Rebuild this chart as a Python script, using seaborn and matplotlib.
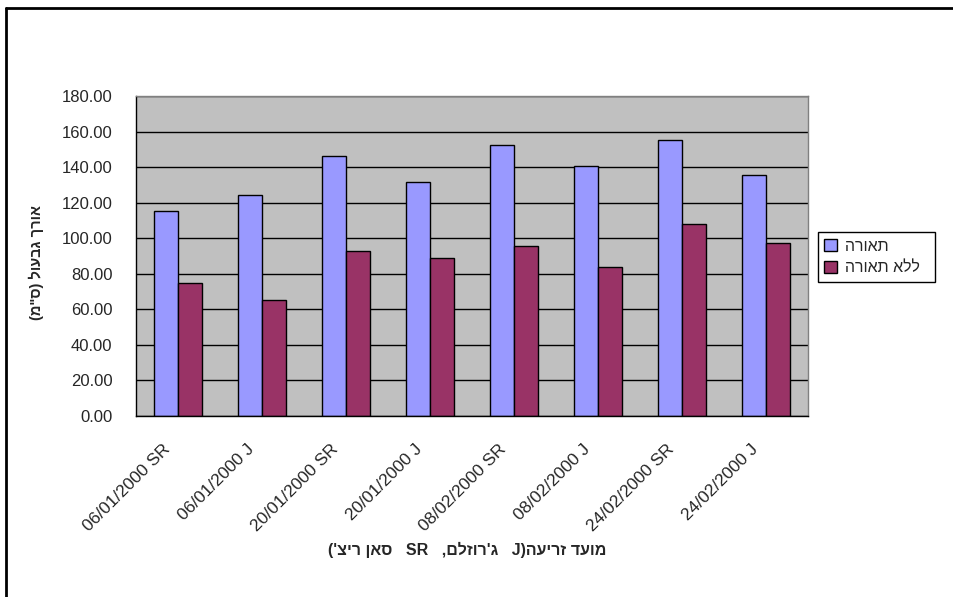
import pandas as pd
import seaborn as sns
import matplotlib.pyplot as plt
from matplotlib.lines import Line2D
from matplotlib.ticker import FixedLocator, FormatStrFormatter
from matplotlib.transforms import ScaledTranslation

# sowing date (J = Jerusalem, SR = San Rich) and stem length in cm
dates = ["06/01/2000 SR", "06/01/2000 J", "20/01/2000 SR", "20/01/2000 J",
         "08/02/2000 SR", "08/02/2000 J", "24/02/2000 SR", "24/02/2000 J"]
with_light = [115.5, 124.3, 146.1, 131.6, 152.2, 140.8, 155.4, 135.4]
no_light = [74.6, 65.2, 92.6, 89.0, 95.6, 84.0, 108.2, 97.5]
series_names = ["תאורה", "ללא תאורה"]
colors = ["#9999FF", "#993366"]
y_ticks = [0, 20, 40, 60, 80, 100, 120, 140, 160, 180]


def heb(s):
    # matplotlib has no bidi support, so flip simple Hebrew strings by hand
    return s[::-1].translate(str.maketrans("()", ")("))


labels = [heb(n) for n in series_names]
df = pd.DataFrame({
    "date": dates * 2,
    "value": with_light + no_light,
    "series": [labels[0]] * len(dates) + [labels[1]] * len(dates),
})

sns.set_style("white")
plt.rcParams["font.family"] = ["Liberation Sans", "DejaVu Sans"]

fig = plt.figure(figsize=(9.54, 5.97), dpi=100)
ax = fig.add_axes([0.1426, 0.3032, 0.7044, 0.536])

sns.barplot(data=df, x="date", y="value", hue="series", order=dates,
            hue_order=labels, palette=colors, width=0.57, gap=0,
            edgecolor="black", linewidth=1, saturation=1, ax=ax)

ax.set_facecolor("#C0C0C0")
ax.set_xlim(-0.5, len(dates) - 0.5)
ax.set_ylim(0, 180)
ax.yaxis.set_major_locator(FixedLocator(y_ticks))
ax.yaxis.set_major_formatter(FormatStrFormatter("%.2f"))
ax.yaxis.grid(True, color="black", linewidth=1)
ax.set_axisbelow(True)

for side in ["top", "right"]:
    ax.spines[side].set_color("#808080")
for side in ["left", "bottom"]:
    ax.spines[side].set_color("black")
for sp in ax.spines.values():
    sp.set_linewidth(1)

ax.xaxis.set_minor_locator(FixedLocator([i - 0.5 for i in range(len(dates) + 1)]))
ax.tick_params(axis="x", which="major", length=0, labelsize=12.5, pad=22)
ax.tick_params(axis="x", which="minor", length=4.5, direction="out", color="black")
ax.tick_params(axis="y", length=6, direction="out", color="black", labelsize=12, pad=11)
shift = ScaledTranslation(-10 / 100, 0, fig.dpi_scale_trans)
for lab in ax.get_xticklabels():
    lab.set_rotation(45)
    lab.set_ha("right")
    lab.set_va("center")
    lab.set_rotation_mode("anchor")
    lab.set_transform(lab.get_transform() + shift)

ax.set_xlabel("")
ax.set_ylabel("")
fig.text(467 / 954, 1 - 550 / 597, "('ציר ןאס   SR   ,םלזור'ג   J)העירז דעומ",
         fontsize=11.5, fontweight="bold", ha="center", va="center")
fig.text(36 / 954, 1 - 262 / 597, heb('אורך גבעול (ס"מ)'), rotation=90,
         fontsize=10.5, fontweight="bold", ha="center", va="center")

handles, _ = ax.get_legend_handles_labels()
ax.legend(handles, [lab + "  " for lab in labels], loc="center left",
          bbox_to_anchor=(818 / 954, 1 - 257 / 597), bbox_transform=fig.transFigure,
          frameon=True, fancybox=False, edgecolor="black", framealpha=1,
          fontsize=11.5, handlelength=0.8, handleheight=0.8, handletextpad=0.5,
          borderpad=0.4, labelspacing=0.4, borderaxespad=0)

# chart-area border (only top and left edges fall inside the image)
fig.add_artist(Line2D([6 / 954, 1], [1 - 8 / 597] * 2, color="black", lw=2,
                      transform=fig.transFigure))
fig.add_artist(Line2D([6 / 954] * 2, [0, 1 - 8 / 597], color="black", lw=2,
                      transform=fig.transFigure))

fig.savefig("out.png", dpi=100, facecolor="white")
